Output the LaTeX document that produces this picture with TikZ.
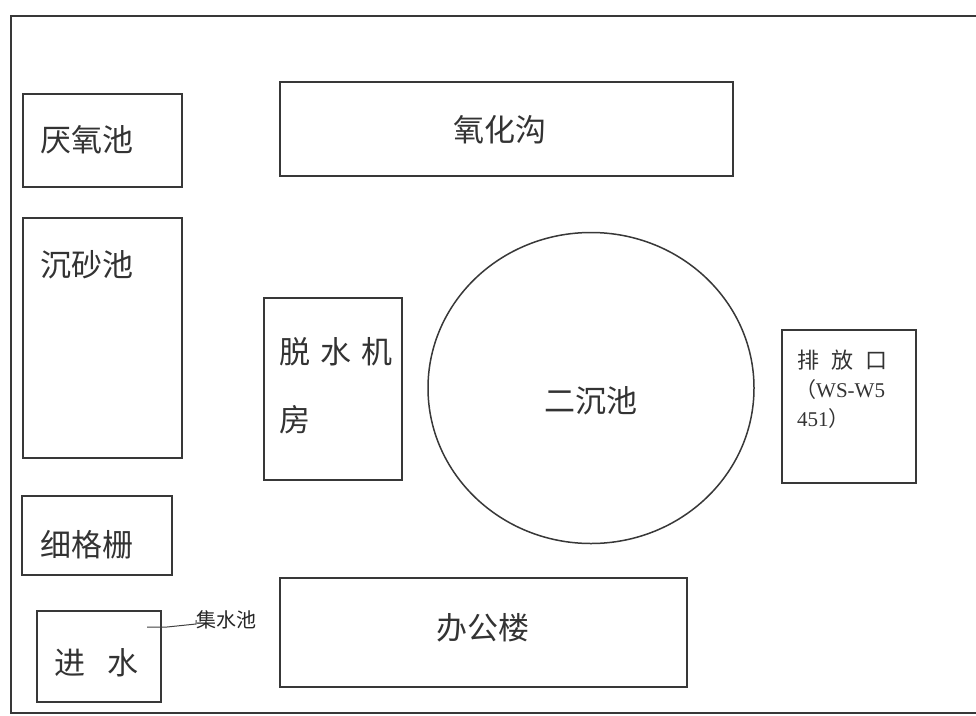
\documentclass[tikz,border=0pt]{standalone}
\usepackage{fontspec}
\setmainfont{Liberation Serif}
\newfontfamily\cjk{Noto Sans CJK SC}
\usetikzlibrary{shapes.geometric}
\begin{document}
\begin{tikzpicture}[x=1pt,y=-1pt,
  box/.style={draw=black!78, line width=1.5pt, inner sep=0pt},
  lbl/.style={font=\cjk\fontsize{31}{36}\selectfont, text=black!80, inner sep=0pt},
  slbl/.style={font=\cjk\fontsize{22}{26}\selectfont, text=black!80, inner sep=0pt},
  wlbl/.style={font=\fontsize{21}{24}\selectfont, text=black!80, inner sep=0pt},
  tlbl/.style={font=\cjk\fontsize{20}{24}\selectfont, text=black!85, inner sep=0pt}]
\useasboundingbox (0,0) rectangle (976,715);
\fill[white] (0,0) rectangle (976,715);
\begin{scope}
  \clip (0,0) rectangle (976,715);
  \node[box, minimum width=990pt, minimum height=697pt, anchor=north west] (frame) at (10,15) {};
\end{scope}
% boxes
\node[box, minimum width=159pt, minimum height=93pt] (yyc) at (102.5,140.5) {};
\node[box, minimum width=453pt, minimum height=94pt] (yhg) at (506.5,129) {};
\node[box, minimum width=159pt, minimum height=240pt] (csc) at (102.5,338) {};
\node[box, minimum width=138pt, minimum height=182pt] (tsjf) at (333,389) {};
\node[box, ellipse, minimum width=326pt, minimum height=311pt] (ecc) at (591,388) {};
\node[box, minimum width=134pt, minimum height=153pt] (pfk) at (849,406.5) {};
\node[box, minimum width=150pt, minimum height=79pt] (xgs) at (97,535.5) {};
\node[box, minimum width=124pt, minimum height=91pt] (js) at (99,656.5) {};
\node[box, minimum width=407pt, minimum height=109pt] (bgl) at (483.5,632.5) {};
% labels
\node[lbl, anchor=west] (tyyc) at (40,140) {厌氧池};
\node[lbl] (tyhg) at (500,130) {氧化沟};
\node[lbl, anchor=west] (tcsc) at (40,265) {沉砂池};
\node[lbl, anchor=west] (ttsj) at (279,352) {脱\hspace{10pt}水\hspace{10pt}机};
\node[lbl, anchor=west] (tfang) at (279,420) {房};
\node[lbl] (tecc) at (591,401) {二沉池};
\node[slbl, anchor=west] (tpfk) at (797,360) {排\hspace{12pt}放\hspace{12pt}口};
\node[wlbl, anchor=west] (tws) at (795,390) {{\cjk （}WS-W5};
\node[wlbl, anchor=west] (t451) at (797,419) {451{\cjk ）}};
\node[lbl, anchor=west] (txgs) at (40,545) {细格栅};
\node[lbl, anchor=west] (tjs) at (54,663) {进\hspace{22pt}水};
\node[lbl] (tbgl) at (483,628) {办公楼};
\node[tlbl, anchor=west] (tjsc) at (196,620) {集水池};
% connector
\coordinate (jsc0) at (147,627);
\draw[black!75, line width=1pt] (jsc0) -- (167,627) -- (tjsc.west |- 0,624) -- (tjsc.west);
\end{tikzpicture}
\end{document}
